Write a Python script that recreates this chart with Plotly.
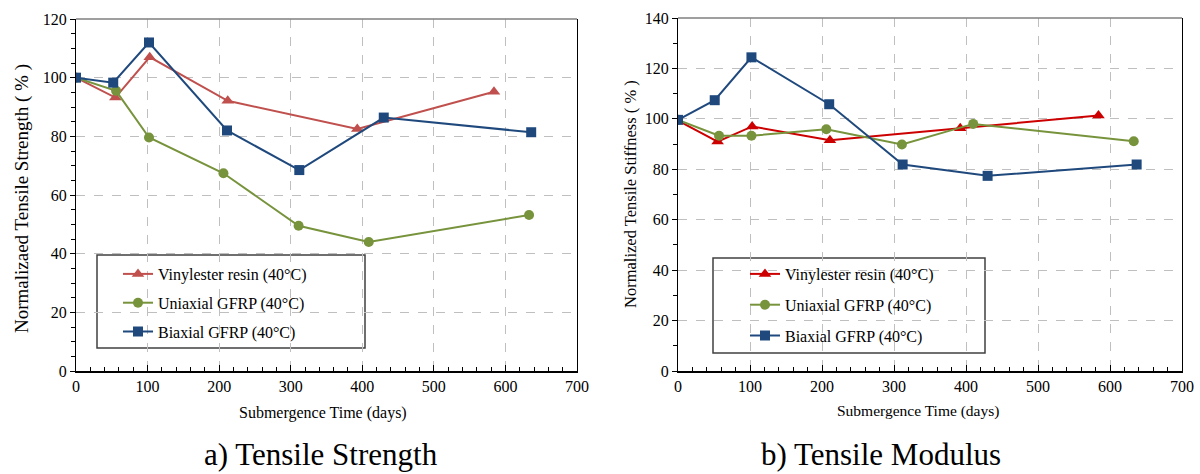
import plotly.graph_objects as go

# ---- Data: a) Tensile Strength ----
vin_days_a = [0, 55, 103, 212, 393, 584]
vin_strength = [100, 93.2, 107, 92.1, 82.5, 95.2]
uni_days_a = [0, 56, 102, 206, 311, 409, 633]
uni_strength = [100, 95.5, 79.6, 67.4, 49.5, 44, 53.2]
bi_days_a = [0, 52, 102, 211, 312, 430, 636]
bi_strength = [100, 98.3, 112, 82, 68.5, 86.4, 81.4]

# ---- Data: b) Tensile Modulus ----
vin_days_b = [0, 55, 103, 211, 392, 584]
vin_stiffness = [99.3, 91, 97, 91.5, 96.3, 101.3]
uni_days_b = [0, 57, 102, 206, 311, 410, 633]
uni_stiffness = [99.6, 93.3, 93.3, 95.9, 89.8, 98, 91.1]
bi_days_b = [0, 51, 102, 210, 312, 430, 637]
bi_stiffness = [99.6, 107.4, 124.4, 105.8, 81.9, 77.4, 81.9]

names = ["Vinylester resin (40°C)", "Uniaxial GFRP (40°C)", "Biaxial GFRP (40°C)"]
captions = ["a) Tensile Strength", "b) Tensile Modulus"]
ytitles = ["Normalizaed Tensile Strength ( % )", "Normalized Tensile Stiffness ( % )"]
xtitle = "Submergence Time (days)"

RED_A = "#C0504D"
RED_B = "#CC0000"
GREEN = "#77933C"
BLUE = "#1F497D"
FONT = "Liberation Serif"

W, H = 1200, 474
def px(x):
    return x / W
def py(y):
    return 1 - y / H

fig = go.Figure()

def add(x, y, name, color, symbol, size, xa, ya, legend, group):
    fig.add_trace(go.Scatter(
        x=x, y=y, name=name, mode="lines+markers",
        line=dict(color=color, width=2),
        marker=dict(color=color, symbol=symbol, size=size, line=dict(width=0)),
        xaxis=xa, yaxis=ya, legend=legend, legendgroup=group,
    ))

add(vin_days_a, vin_strength, names[0], RED_A, "triangle-up", 11, "x", "y", "legend", "a1")
add(uni_days_a, uni_strength, names[1], GREEN, "circle", 10, "x", "y", "legend", "a2")
add(bi_days_a, bi_strength, names[2], BLUE, "square", 10, "x", "y", "legend", "a3")
add(vin_days_b, vin_stiffness, names[0], RED_B, "triangle-up", 11, "x2", "y2", "legend2", "b1")
add(uni_days_b, uni_stiffness, names[1], GREEN, "circle", 10, "x2", "y2", "legend2", "b2")
add(bi_days_b, bi_stiffness, names[2], BLUE, "square", 10, "x2", "y2", "legend2", "b3")

grid = dict(showgrid=True, gridcolor="#BFBFBF", griddash="dash", gridwidth=1)
xcommon = dict(range=[0, 700], dtick=100, tick0=0, showline=True, linecolor="black", linewidth=2,
               ticks="inside", ticklen=6, tickcolor="black", tickwidth=1, automargin=False,
               minor=dict(dtick=20, ticks="inside", ticklen=4, tickcolor="black", showgrid=False),
               tickfont=dict(family=FONT, size=16, color="black"), zeroline=False, **grid)
ycommon = dict(showline=True, linecolor="black", linewidth=1, mirror=True, automargin=False,
               ticks="outside", ticklen=5, tickcolor="black", tickwidth=1,
               tickfont=dict(family=FONT, size=16, color="black"), zeroline=False, **grid)

fig.update_layout(
    width=W, height=H,
    margin=dict(l=0, r=0, t=0, b=0),
    paper_bgcolor="white", plot_bgcolor="white",
    font=dict(family=FONT, color="black"),
    xaxis=dict(domain=[px(76), px(577)], anchor="y", **xcommon),
    yaxis=dict(domain=[py(371), py(19)], anchor="x", range=[0, 120], dtick=20,
               minor=dict(dtick=5, ticks="outside", ticklen=4, tickcolor="black", showgrid=False), **ycommon),
    xaxis2=dict(domain=[px(678), px(1182)], anchor="y2", **xcommon),
    yaxis2=dict(domain=[py(371), py(18)], anchor="x2", range=[0, 140], dtick=20,
                minor=dict(dtick=10, ticks="outside", ticklen=4, tickcolor="black", showgrid=False), **ycommon),
    legend=dict(x=px(118), y=py(257), xanchor="left", yanchor="top", bgcolor="rgba(0,0,0,0)",
                borderwidth=0, font=dict(family=FONT, size=16, color="black"), tracegroupgap=5,
                itemwidth=30),
    legend2=dict(x=px(745), y=py(257), xanchor="left", yanchor="top", bgcolor="rgba(0,0,0,0)",
                 borderwidth=0, font=dict(family=FONT, size=16, color="black"), tracegroupgap=7,
                 itemwidth=30),
    showlegend=True,
)

# legend frames and gray top border of the plot areas
fig.add_shape(type="rect", xref="paper", yref="paper", x0=px(97), x1=px(365), y0=py(348), y1=py(255),
              line=dict(color="#404040", width=1.5), fillcolor="white", layer="below")
fig.add_shape(type="rect", xref="paper", yref="paper", x0=px(713), x1=px(985), y0=py(353), y1=py(258),
              line=dict(color="#404040", width=1.5), fillcolor="white", layer="below")
for xr, yr in (("x domain", "y domain"), ("x2 domain", "y2 domain")):
    fig.add_shape(type="line", xref=xr, yref=yr, x0=0, x1=1, y0=1, y1=1,
                  line=dict(color="#7F7F7F", width=1.5))

def note(x, y, text, size, angle=0, yanchor="middle"):
    fig.add_annotation(x=px(x), y=py(y), xref="paper", yref="paper", text=text, showarrow=False,
                       xanchor="center", yanchor=yanchor, textangle=angle,
                       font=dict(family=FONT, size=size, color="black"))

# axis titles and captions
note(323, 413, xtitle, 16)
note(918, 411, xtitle, 15.5)
note(22, 199, ytitles[0], 19, -90)
note(630, 194, ytitles[1], 16.5, -90)
note(321, 474, captions[0], 31, yanchor="bottom")
note(881, 474, captions[1], 31, yanchor="bottom")

fig.write_html("out.html")
